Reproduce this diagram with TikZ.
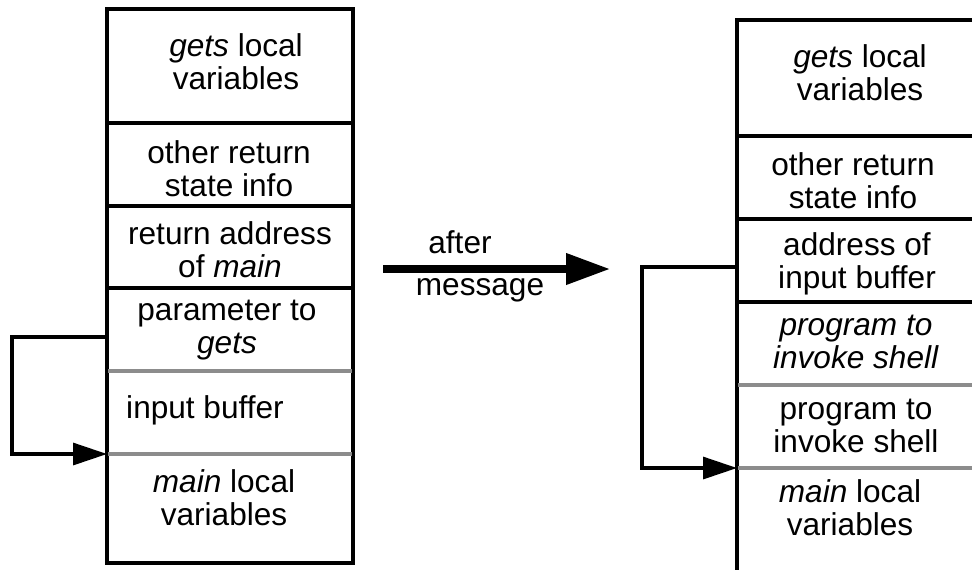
\documentclass[tikz,border=0pt]{standalone}
\usepackage{fontspec}
\setmainfont{Liberation Sans}
\usetikzlibrary{arrows.meta}
\tikzset{
  frameline/.style={line width=1.6pt, black},
  grayline/.style={line width=1.6pt, gray!90},
  cell/.style={align=center, inner sep=0pt, font=\fontsize{15.8pt}{16.5pt}\selectfont},
  pointer/.style={line width=1.6pt, -{Triangle[length=17pt,width=11pt]}},
  bigarrow/.style={line width=3.6pt, -{Triangle[length=22pt,width=15pt]}},
  caption/.style={inner sep=0pt, font=\fontsize{15.8pt}{16.5pt}\selectfont}
}
\begin{document}
\begin{tikzpicture}[x=0.5pt,y=-0.5pt]
\useasboundingbox (0,0) rectangle (972,569);
\begin{scope}
\clip (0,0) rectangle (972,569);
% left stack
\draw[frameline] (107,9) rectangle (353,563);
\draw[frameline] (107,123) -- (353,123);
\draw[frameline] (107,206) -- (353,206);
\draw[frameline] (107,288) -- (353,288);
\draw[grayline] (108,371) -- (352,371);
\draw[grayline] (108,454) -- (352,454);
\node[cell] (l1) at (236,62) {\textit{gets} local\\variables};
\node[cell] (l2) at (229,169) {other return\\state info};
\node[cell] (l3) at (230,250) {return address\\of \textit{main}};
\node[cell] (l4) at (227,330) {parameter to\\\textit{gets}};
\node[cell] (l5) at (205,410) {input buffer};
\node[cell] (l6) at (224,498) {\textit{main} local\\variables};
\coordinate (lsrc) at (107,337);
\coordinate (ldst) at (107,454);
\draw[pointer] (lsrc) -- (12,337) |- (ldst);
% right stack
\draw[frameline] (737,600) -- (737,20) -- (983,20) -- (983,600);
\draw[frameline] (737,136) -- (983,136);
\draw[frameline] (737,219) -- (983,219);
\draw[frameline] (737,302) -- (983,302);
\draw[grayline] (738,385) -- (983,385);
\draw[grayline] (738,468) -- (983,468);
\node[cell] (r1) at (860,73) {\textit{gets} local\\variables};
\node[cell] (r2) at (853,181) {other return\\state info};
\node[cell] (r3) at (857,264) {address of\\input buffer};
\node[cell] (r4) at (856,342) {\textit{program to}\\\textit{invoke shell}};
\node[cell] (r5) at (856,426) {program to\\invoke shell};
\node[cell] (r6) at (850,508) {\textit{main} local\\variables};
\coordinate (rsrc) at (737,267);
\coordinate (rdst) at (737,468);
\draw[pointer] (rsrc) -- (642,267) |- (rdst);
% middle arrow
\coordinate (astart) at (383,269);
\coordinate (aend) at (610,269);
\draw[bigarrow] (astart) -- (aend);
\node[caption] (after) at (460,242) {after};
\node[caption] (msg) at (480,290) {message};
\end{scope}
\end{tikzpicture}
\end{document}
